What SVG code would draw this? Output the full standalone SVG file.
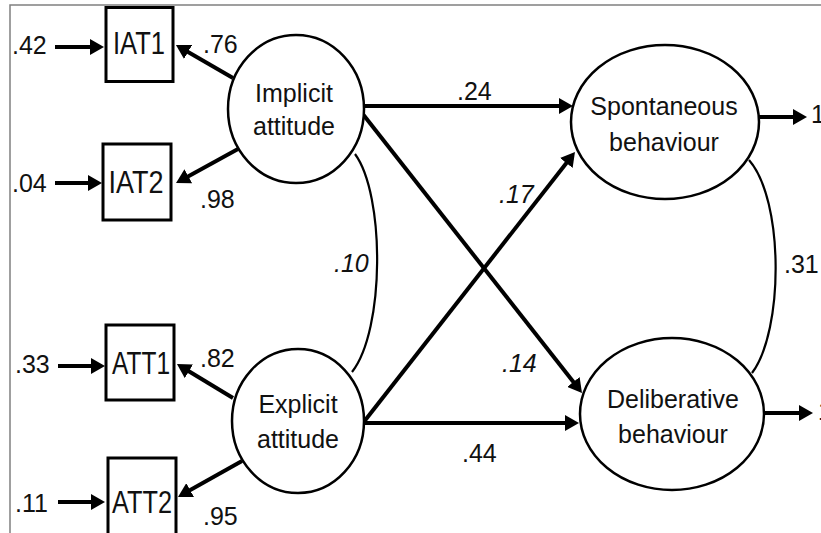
<svg xmlns="http://www.w3.org/2000/svg" width="821" height="533" viewBox="0 0 821 533">
  <style>
    .bg { fill: #ffffff; }
    .frame { stroke: #808080; stroke-width: 1.5; fill: none; }
    .box { fill: #ffffff; stroke: #000000; stroke-width: 3; }
    .latent { fill: #ffffff; stroke: #000000; stroke-width: 2.5; }
    .arrow { stroke: #000000; stroke-width: 4; fill: none; marker-end: url(#head); }
    .cov { stroke: #000000; stroke-width: 2.2; fill: none; }
    text { font-family: "Liberation Sans", Arial, Helvetica, sans-serif; fill: #111111; }
    .lbl { font-size: 25px; text-anchor: middle; }
    .num { font-size: 25px; }
    .it { font-style: italic; }
    .obs { font-size: 31px; text-anchor: middle; }
  </style>
  <defs>
    <marker id="head" viewBox="0 0 14 16" refX="4" refY="8" markerWidth="14" markerHeight="16" markerUnits="userSpaceOnUse" orient="auto">
      <path d="M0,0 L14,8 L0,16 Z" fill="#000000"/>
    </marker>
  </defs>
  <rect class="bg" x="0" y="0" width="821" height="533"/>
  <path class="frame" d="M10,533 L10,5 L821,5"/>

  <g id="connectors">
    <line class="arrow" x1="55" y1="47" x2="94" y2="47"/>
    <line class="arrow" x1="55" y1="183" x2="92" y2="183"/>
    <line class="arrow" x1="58" y1="366" x2="95" y2="366"/>
    <line class="arrow" x1="58" y1="502" x2="95" y2="502"/>
    <line class="arrow" x1="233" y1="78" x2="184.6" y2="50"/>
    <line class="arrow" x1="238" y1="149" x2="184.8" y2="178.2"/>
    <line class="arrow" x1="233" y1="398" x2="185.5" y2="369.2"/>
    <line class="arrow" x1="242" y1="461" x2="186.7" y2="492.1"/>
    <line class="arrow" x1="364" y1="106" x2="563" y2="106"/>
    <line class="arrow" x1="363" y1="423" x2="568.8" y2="159.9"/>
    <line class="arrow" x1="362" y1="113" x2="575.8" y2="385.1"/>
    <line class="arrow" x1="363" y1="423" x2="569" y2="423"/>
    <line class="arrow" x1="759" y1="117" x2="797" y2="117"/>
    <line class="arrow" x1="763" y1="413" x2="803" y2="413"/>
    <path class="cov" d="M355,154 C385,195 385,330 352,372"/>
    <path class="cov" d="M749,160 C784,200 784,330 752,373"/>
  </g>

  <g id="edge-labels">
    <text class="num" x="12" y="54">.42</text>
    <text class="num" x="12" y="192">.04</text>
    <text class="num" x="15" y="373">.33</text>
    <text class="num" x="15" y="512">.11</text>
    <text class="num" x="203" y="53">.76</text>
    <text class="num" x="200" y="208">.98</text>
    <text class="num" x="200" y="367">.82</text>
    <text class="num" x="203" y="525">.95</text>
    <text class="num" x="457" y="100">.24</text>
    <text class="num it" x="499" y="203">.17</text>
    <text class="num it" x="334" y="272">.10</text>
    <text class="num it" x="502" y="372">.14</text>
    <text class="num" x="462" y="462">.44</text>
    <text class="num" x="784" y="273">.31</text>
    <text class="num" x="811" y="123">1</text>
    <text class="num" x="818" y="420">1</text>
  </g>

  <g id="IAT1">
    <rect class="box" x="106" y="7.5" width="67" height="74"/>
    <text class="obs" x="139" y="54" textLength="52" lengthAdjust="spacingAndGlyphs">IAT1</text>
  </g>
  <g id="IAT2">
    <rect class="box" x="103" y="144" width="68" height="76"/>
    <text class="obs" x="136" y="193" textLength="55" lengthAdjust="spacingAndGlyphs">IAT2</text>
  </g>
  <g id="ATT1">
    <rect class="box" x="106" y="325" width="68" height="75"/>
    <text class="obs" x="141" y="374" textLength="58" lengthAdjust="spacingAndGlyphs">ATT1</text>
  </g>
  <g id="ATT2">
    <rect class="box" x="108" y="458" width="68" height="82"/>
    <text class="obs" x="142" y="513" textLength="60" lengthAdjust="spacingAndGlyphs">ATT2</text>
  </g>

  <g id="implicit-attitude">
    <ellipse class="latent" cx="296" cy="109" rx="68" ry="74"/>
    <text class="lbl" x="294" y="102">Implicit</text>
    <text class="lbl" x="294" y="135">attitude</text>
  </g>
  <g id="explicit-attitude">
    <ellipse class="latent" cx="298" cy="421" rx="66" ry="72"/>
    <text class="lbl" x="298" y="413">Explicit</text>
    <text class="lbl" x="298" y="448">attitude</text>
  </g>
  <g id="spontaneous-behaviour">
    <ellipse class="latent" cx="665" cy="122" rx="94" ry="77"/>
    <text class="lbl" x="664" y="115">Spontaneous</text>
    <text class="lbl" x="664" y="151">behaviour</text>
  </g>
  <g id="deliberative-behaviour">
    <ellipse class="latent" cx="672" cy="414" rx="92" ry="76"/>
    <text class="lbl" x="673" y="408">Deliberative</text>
    <text class="lbl" x="673" y="443">behaviour</text>
  </g>
</svg>
